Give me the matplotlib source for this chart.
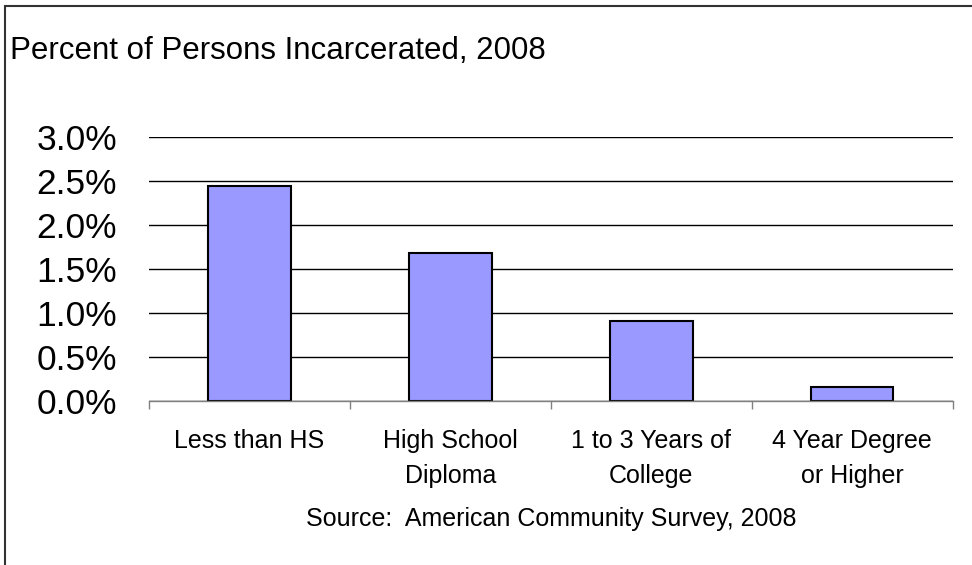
import matplotlib
matplotlib.use("Agg")
import matplotlib.pyplot as plt
from matplotlib.patches import Rectangle
from matplotlib.ticker import FuncFormatter, FixedLocator

categories = ["Less than HS", "High School\nDiploma", "1 to 3 Years of\nCollege",
              "4 Year Degree\nor Higher"]
pct_incarcerated = [2.45, 1.68, 0.91, 0.16]
yticks = [0.0, 0.5, 1.0, 1.5, 2.0, 2.5, 3.0]

plt.rcParams.update({
    "font.family": ["Liberation Sans", "DejaVu Sans"],
    "figure.dpi": 100,
})

W, H = 972, 565
fig = plt.figure(figsize=(W / 100, H / 100))
ax = fig.add_axes([149 / W, 1 - 401.3 / H, 803.7 / W, 264 / H])

x = range(len(categories))
ax.bar(x, pct_incarcerated, width=0.41, color="#9999FF", edgecolor="black",
       linewidth=1.5, zorder=3)

ax.set_xlim(-0.5, len(categories) - 0.5)
ax.set_ylim(0, 3.0)
ax.yaxis.set_major_locator(FixedLocator(yticks))
ax.yaxis.set_major_formatter(FuncFormatter(lambda v, _: f"{v:.1f}%"))
ax.grid(axis="y", color="black", linewidth=1, zorder=0)
ax.tick_params(axis="y", length=0, pad=23, labelsize=25.5)

ax.set_xticks(list(x))
ax.set_xticklabels(categories, fontsize=18, linespacing=1.55)
ax.set_xticks([i - 0.5 for i in range(len(categories) + 1)], minor=True)
ax.tick_params(axis="x", which="major", length=0, pad=20)
ax.tick_params(axis="x", which="minor", length=6, width=1, color="#808080")

for side in ("top", "right", "left"):
    ax.spines[side].set_visible(False)
ax.spines["bottom"].set_color("#808080")
ax.spines["bottom"].set_linewidth(1)
ax.spines["bottom"].set_zorder(4)

fig.text(10 / W, 1 - 51 / H, "Percent of Persons Incarcerated, 2008",
         fontsize=22.5, ha="left", va="center")
fig.text((149 + 803.7 / 2) / W, 1 - 519 / H,
         "Source:  American Community Survey, 2008",
         fontsize=18, ha="center", va="center")

# outer chart frame (runs off the right and bottom edges)
fig.patches.append(Rectangle((5 / W, -0.1), 1.2, 1.1 - 6 / H, fill=False,
                             edgecolor="#333333", linewidth=1.5,
                             transform=fig.transFigure, figure=fig))

fig.savefig("out.png", dpi=100)
